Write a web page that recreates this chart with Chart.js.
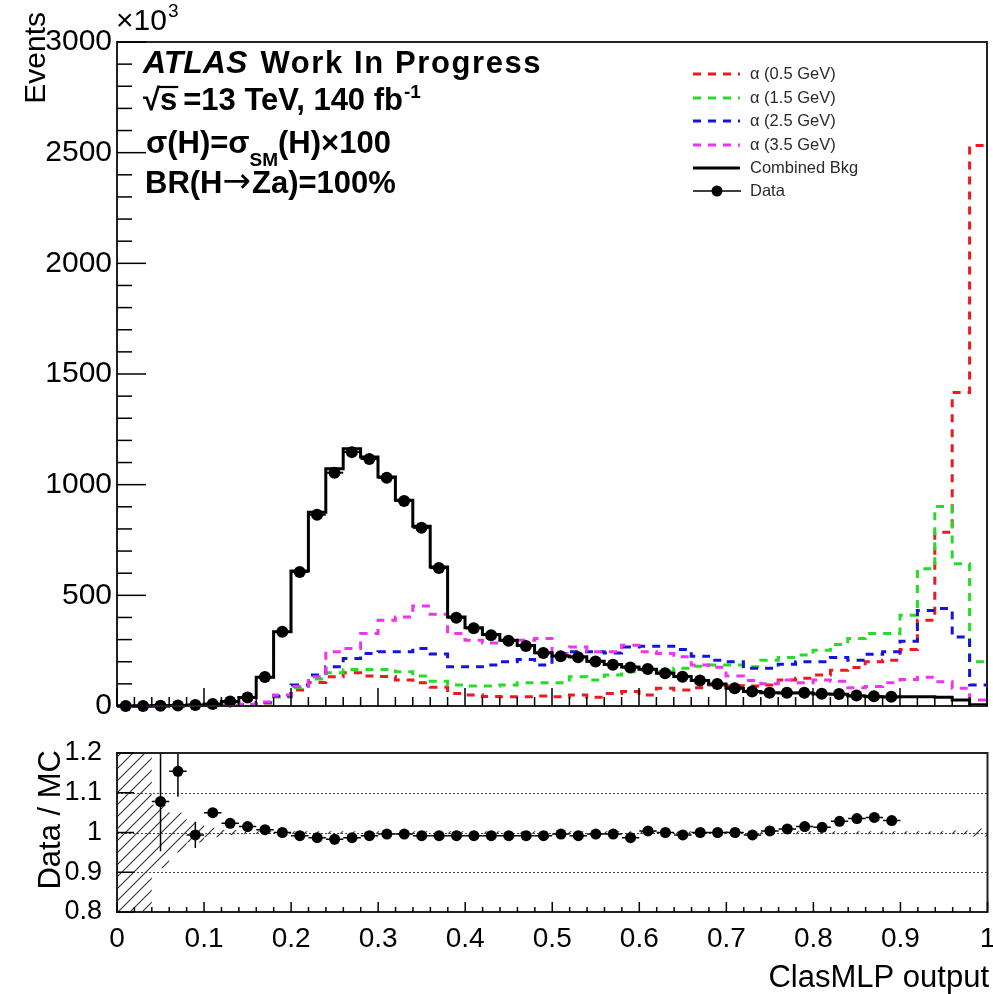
<!DOCTYPE html>
<html>
<head>
<meta charset="utf-8">
<script src="https://cdn.jsdelivr.net/npm/chart.js@4.4.1/dist/chart.umd.min.js"></script>
<style>
  html, body { margin: 0; padding: 0; background: #fff; }
  #wrap { position: relative; width: 993px; height: 994px; overflow: hidden; }
  #main { position: absolute; left: 0; top: 0; }
  #ratio { position: absolute; left: 0; top: 730px; }
</style>
</head>
<body>
<div id="wrap">
  <canvas id="main" width="993" height="730"></canvas>
  <canvas id="ratio" width="993" height="264"></canvas>
</div>
<script>
// ---- binning of the ClasMLP output ----
const nBins = 50;
const xLow = 0;
const xHigh = 1;
const binWidth = (xHigh - xLow) / nBins;

// ---- event yields per bin (units of 10^3 events) ----
const combinedBkg = [0.2, 0.4, 1.0, 2.0, 4.0, 8.5, 20, 38, 130, 335,
  610, 875, 1072, 1162, 1125, 1035, 930, 812, 628, 402,
  354, 323, 297, 273, 241, 226, 222, 202, 187, 176,
  166, 148, 133, 115, 99, 80, 65, 60, 59, 59,
  54, 53, 45, 42, 41, 42, 42, 40, 27, 6];

// data is blinded above 0.9
const dataCounts = [0, 0, 1.1, 2.3, 4.0, 8.9, 20.5, 38.6, 131, 335,
  605, 864, 1054, 1147, 1116, 1031, 926, 805, 623, 399,
  351, 320, 295, 271, 239, 225, 220, 201, 186, 174,
  167, 148, 132, 115, 99, 80, 65, 60, 60, 60,
  55, 54, 47, 44, 42, null, null, null, null, null];

const sigA05 = [0, 0, 0, 0, 0, 1, 2, 5, 14, 42,
  72, 106, 132, 150, 135, 133, 118, 105, 85, 57,
  50, 43, 42, 42, 45, 42, 50, 40, 57, 65,
  50, 80, 72, 82, 95, 92, 90, 95, 117, 125,
  140, 162, 174, 200, 207, 255, 387, 785, 1416, 2532];

const sigA15 = [0, 0, 0, 0, 0, 1, 2, 5, 15, 42,
  82, 122, 150, 165, 165, 165, 155, 135, 112, 95,
  90, 90, 95, 105, 105, 105, 132, 117, 140, 155,
  162, 155, 170, 180, 185, 185, 177, 207, 219, 230,
  252, 278, 305, 327, 327, 410, 620, 901, 643, 200];

const sigA25 = [0, 0, 0, 0, 0, 1, 3, 6, 16, 45,
  95, 140, 177, 215, 237, 245, 245, 260, 235, 177,
  177, 185, 200, 210, 185, 237, 245, 245, 240, 267,
  270, 270, 255, 225, 207, 200, 170, 170, 189, 200,
  200, 219, 207, 234, 245, 293, 432, 440, 312, 95];

const sigA35 = [0, 0, 0, 0, 0, 1, 3, 8, 18, 50,
  88, 132, 245, 260, 327, 387, 402, 452, 415, 327,
  297, 285, 297, 297, 305, 237, 267, 245, 245, 275,
  245, 237, 222, 185, 175, 135, 115, 100, 118, 105,
  117, 112, 82, 88, 105, 120, 130, 110, 80, 27];

// ---- Data / MC ratio ----
const ratioValues = [null, null, 1.078, 1.154, 0.994, 1.050, 1.023, 1.015, 1.007, 1.000,
  0.992, 0.987, 0.983, 0.987, 0.992, 0.996, 0.996, 0.992, 0.992, 0.992,
  0.992, 0.992, 0.992, 0.992, 0.992, 0.996, 0.992, 0.996, 0.996, 0.987,
  1.004, 1.000, 0.994, 1.000, 1.000, 1.000, 0.994, 1.004, 1.009, 1.015,
  1.013, 1.028, 1.035, 1.038, 1.030, null, null, null, null, null];

const ratioErrors = [null, null, 0.125, 0.064, 0.033, 0.012, 0.008, 0.005, 0.004, 0.004,
  0.003, 0.003, 0.003, 0.003, 0.003, 0.003, 0.003, 0.003, 0.003, 0.004,
  0.004, 0.004, 0.004, 0.004, 0.004, 0.004, 0.004, 0.004, 0.004, 0.004,
  0.004, 0.004, 0.004, 0.004, 0.004, 0.005, 0.005, 0.005, 0.005, 0.005,
  0.005, 0.005, 0.005, 0.006, 0.006, null, null, null, null, null];

// MC statistical uncertainty band (relative)
const mcBandLow = [0.5, 0.5, 0.91, 0.95, 0.975, 0.988, 0.994, 0.997, 0.997, 0.997,
  0.997, 0.997, 0.997, 0.997, 0.997, 0.997, 0.997, 0.997, 0.997, 0.997,
  0.997, 0.997, 0.997, 0.997, 0.997, 0.997, 0.997, 0.997, 0.997, 0.997,
  0.997, 0.997, 0.997, 0.997, 0.997, 0.997, 0.997, 0.997, 0.997, 0.997,
  0.997, 0.997, 0.997, 0.997, 0.997, 0.997, 0.997, 0.997, 0.995, 0.99];
const mcBandHigh = [1.5, 1.5, 1.07, 1.05, 1.025, 1.012, 1.006, 1.003, 1.003, 1.003,
  1.003, 1.003, 1.003, 1.003, 1.003, 1.003, 1.003, 1.003, 1.003, 1.003,
  1.003, 1.003, 1.003, 1.003, 1.003, 1.003, 1.003, 1.003, 1.003, 1.003,
  1.003, 1.003, 1.003, 1.003, 1.003, 1.003, 1.003, 1.003, 1.003, 1.003,
  1.003, 1.003, 1.003, 1.003, 1.003, 1.003, 1.003, 1.003, 1.005, 1.01];

// ---- axis ticks ----
const eventsTicks = [0, 500, 1000, 1500, 2000, 2500, 3000];
const eventsTickLabels = ['0', '500', '1000', '1500', '2000', '2500', '3000'];
const ratioTicks = [0.8, 0.9, 1.0, 1.1, 1.2];
const ratioTickLabels = ['0.8', '0.9', '1', '1.1', '1.2'];
const xTicks = [0, 0.1, 0.2, 0.3, 0.4, 0.5, 0.6, 0.7, 0.8, 0.9, 1.0];
const xTickLabels = ['0', '0.1', '0.2', '0.3', '0.4', '0.5', '0.6', '0.7', '0.8', '0.9', '1'];

// ---- helpers ----
const SANS = '"Liberation Sans", Arial, Helvetica, sans-serif';
const COL = { red: '#ea1a20', green: '#27dc27', blue: '#1414d8', magenta: '#ee34ee' };

function histSteps(values) {
  const pts = values.map((v, i) => ({ x: xLow + i * binWidth, y: v }));
  pts.push({ x: xHigh, y: values[values.length - 1] });
  return pts;
}
function binPoints(values) {
  const pts = [];
  values.forEach((v, i) => { if (v !== null) pts.push({ x: xLow + (i + 0.5) * binWidth, y: v, i }); });
  return pts;
}
function line(ctx, x1, y1, x2, y2) {
  ctx.beginPath(); ctx.moveTo(x1, y1); ctx.lineTo(x2, y2); ctx.stroke();
}
function richText(ctx, x, y, parts) {
  let cx = x;
  for (const p of parts) {
    ctx.font = p.font;
    ctx.letterSpacing = p.ls || '0px';
    ctx.fillText(p.text, cx + (p.dx || 0), y + (p.dy || 0));
    cx += (p.dx || 0) + ctx.measureText(p.text).width;
  }
  ctx.letterSpacing = '0px';
  return cx;
}

Chart.defaults.color = '#000';
Chart.defaults.font.family = SANS;

// ---------------- main panel ----------------
const histDataset = (label, values, color, dashed, order) => ({
  type: 'line', label, data: histSteps(values),
  borderColor: color, borderWidth: 3, borderDash: dashed ? [8, 7] : [],
  stepped: true, pointRadius: 0, fill: false, order, clip: 2
});

const mainDecor = {
  id: 'mainDecor',
  beforeDatasetDraw(chart, args) {
    const ds = chart.data.datasets[args.index];
    if (!ds.isData) return;
    const { ctx, scales: { x, y } } = chart;
    ctx.save();
    ctx.strokeStyle = '#000';
    ctx.lineWidth = 2;
    ds.data.forEach(p => {
      const py = y.getPixelForValue(p.y);
      line(ctx, x.getPixelForValue(p.x - binWidth / 2), py, x.getPixelForValue(p.x + binWidth / 2), py);
    });
    ctx.restore();
  },
  afterDatasetsDraw(chart) {
    const { ctx, chartArea: a, scales: { x, y } } = chart;
    ctx.save();
    // frame
    ctx.strokeStyle = '#222';
    ctx.lineWidth = 2;
    ctx.strokeRect(a.left, a.top, a.right - a.left, a.bottom - a.top);
    // inward ticks on the Events axis
    ctx.lineWidth = 1.5;
    ctx.strokeStyle = '#000';
    const yMax = eventsTicks[eventsTicks.length - 1];
    for (let v = 0; v <= yMax; v += 100) {
      const py = y.getPixelForValue(v);
      line(ctx, a.left, py, a.left + (eventsTicks.includes(v) ? 29 : 15), py);
    }
    // inward ticks on the x axis
    for (let i = 0; i <= nBins; i++) {
      const px = x.getPixelForValue(xLow + i * binWidth);
      line(ctx, px, a.bottom, px, a.bottom - (i % 5 === 0 ? 18 : 9));
    }
    ctx.restore();
  },
  afterDraw(chart) {
    const { ctx } = chart;
    const ds = chart.data.datasets;
    ctx.save();
    ctx.fillStyle = '#000';
    ctx.textAlign = 'left';
    ctx.textBaseline = 'alphabetic';

    // axis title
    ctx.save();
    ctx.translate(45, 12);
    ctx.rotate(-Math.PI / 2);
    ctx.textAlign = 'right';
    ctx.font = `30px ${SANS}`;
    ctx.fillText('Events', 0, 0);
    ctx.restore();

    // axis multiplier
    richText(ctx, 116, 30, [
      { text: '×10', font: `30px ${SANS}` },
      { text: '3', font: `19px ${SANS}`, dy: -13, dx: 1 }
    ]);

    // labels
    const B = `bold 31px ${SANS}`;
    richText(ctx, 143, 73, [
      { text: 'ATLAS', font: `italic bold 32px ${SANS}` },
      { text: ' Work In Progress', font: `bold 31px ${SANS}`, ls: '1.6px', dx: 3 }
    ]);
    // sqrt(s)
    ctx.font = B;
    const wRad = ctx.measureText('√').width;
    ctx.fillText('√', 143, 110);
    const wS = ctx.measureText('s').width;
    ctx.fillText('s', 143 + wRad, 110);
    ctx.strokeStyle = '#000';
    ctx.lineWidth = 2.2;
    line(ctx, 143 + wRad - 1, 87, 143 + wRad + wS + 1, 87);
    richText(ctx, 143 + wRad + wS + 6, 110, [
      { text: '=13 TeV, 140 fb', font: B },
      { text: '-1', font: `bold 19px ${SANS}`, dy: -12, dx: 1 }
    ]);
    richText(ctx, 146, 153, [
      { text: 'σ(H)=σ', font: B },
      { text: 'SM', font: `bold 19px ${SANS}`, dy: 13 },
      { text: '(H)×100', font: B }
    ]);
    richText(ctx, 145, 193, [
      { text: 'BR(H', font: B },
      { text: '→', font: `34px "DejaVu Sans", ${SANS}`, dx: 0, dy: -1 },
      { text: 'Za)=100%', font: B, dx: 1 }
    ]);

    // legend
    const rows = [
      { ds: ds[0], y: 74 }, { ds: ds[1], y: 98 }, { ds: ds[2], y: 121 },
      { ds: ds[3], y: 145 }, { ds: ds[4], y: 168 }, { ds: ds[5], y: 191 }
    ];
    ctx.font = `16.5px ${SANS}`;
    ctx.textBaseline = 'middle';
    rows.forEach(r => {
      const d = r.ds;
      ctx.strokeStyle = d.isData ? '#000' : d.borderColor;
      ctx.lineWidth = d.isData ? 1.5 : 3;
      ctx.setLineDash(d.borderDash && d.borderDash.length ? d.borderDash : []);
      line(ctx, 693, r.y, d.isData ? 741 : 740, r.y);
      ctx.setLineDash([]);
      if (d.isData) {
        ctx.beginPath(); ctx.arc(717, r.y, 5.5, 0, Math.PI * 2); ctx.fillStyle = '#000'; ctx.fill();
      }
      ctx.fillStyle = '#2a2a2a';
      ctx.fillText(d.label, 750, r.y);
    });
    ctx.restore();
  }
};

new Chart(document.getElementById('main'), {
  data: {
    datasets: [
      histDataset('α (0.5 GeV)', sigA05, COL.red, true, 5),
      histDataset('α (1.5 GeV)', sigA15, COL.green, true, 4),
      histDataset('α (2.5 GeV)', sigA25, COL.blue, true, 3),
      histDataset('α (3.5 GeV)', sigA35, COL.magenta, true, 2),
      histDataset('Combined Bkg', combinedBkg, '#000', false, 1),
      {
        type: 'scatter', label: 'Data', isData: true, data: binPoints(dataCounts),
        pointRadius: 6, pointBackgroundColor: '#000', pointBorderColor: '#000',
        pointBorderWidth: 0, showLine: false, order: 0, clip: false
      }
    ]
  },
  options: {
    responsive: false, animation: false, devicePixelRatio: 1,
    layout: { padding: { left: 0, right: 4, top: 42, bottom: 24 } },
    plugins: { legend: { display: false }, tooltip: { enabled: false } },
    scales: {
      x: { type: 'linear', min: xLow, max: xHigh, display: false },
      y: {
        type: 'linear', min: 0, max: 3000,
        grid: { display: false, drawTicks: false }, border: { display: false },
        afterBuildTicks: s => { s.ticks = eventsTicks.map(v => ({ value: v })); },
        afterFit: s => { s.width = 117; },
        ticks: {
          font: { size: 30 }, padding: 5, color: '#000',
          callback: (v, i) => eventsTickLabels[i]
        }
      }
    }
  },
  plugins: [mainDecor]
});

// ---------------- ratio panel ----------------
function hatchPattern() {
  const c = document.createElement('canvas');
  c.width = 12; c.height = 12;
  const g = c.getContext('2d');
  g.strokeStyle = '#333';
  g.lineWidth = 1.1;
  g.beginPath();
  g.moveTo(0, 12); g.lineTo(12, 0);
  g.moveTo(-1, 1); g.lineTo(1, -1);
  g.moveTo(11, 13); g.lineTo(13, 11);
  g.stroke();
  return g.createPattern(c, 'repeat');
}

const ratioDecor = {
  id: 'ratioDecor',
  beforeDatasetsDraw(chart) {
    const { ctx, chartArea: a, scales: { y } } = chart;
    ctx.save();
    ctx.strokeStyle = '#444';
    ctx.lineWidth = 1;
    ctx.setLineDash([2, 2]);
    [0.9, 1.0, 1.1].forEach(v => {
      const py = Math.round(y.getPixelForValue(v)) + 0.5;
      line(ctx, a.left, py, a.right, py);
    });
    ctx.restore();
  },
  beforeDatasetDraw(chart, args) {
    const ds = chart.data.datasets[args.index];
    if (!ds.isData) return;
    const { ctx, chartArea: a, scales: { x, y } } = chart;
    ctx.save();
    ctx.beginPath();
    ctx.rect(a.left, a.top, a.right - a.left, a.bottom - a.top);
    ctx.clip();
    ctx.strokeStyle = '#000';
    ctx.lineWidth = 1.5;
    ds.data.forEach(p => {
      const py = y.getPixelForValue(p.y);
      const px = x.getPixelForValue(p.x);
      line(ctx, x.getPixelForValue(p.x - binWidth / 2), py, x.getPixelForValue(p.x + binWidth / 2), py);
      const e = ratioErrors[p.i];
      line(ctx, px, y.getPixelForValue(p.y - e), px, y.getPixelForValue(p.y + e));
    });
    ctx.restore();
  },
  afterDatasetsDraw(chart) {
    const { ctx, chartArea: a, scales: { x, y } } = chart;
    ctx.save();
    ctx.strokeStyle = '#222';
    ctx.lineWidth = 2;
    ctx.strokeRect(a.left, a.top, a.right - a.left, a.bottom - a.top);
    ctx.strokeStyle = '#000';
    ctx.lineWidth = 1.5;
    ratioTicks.forEach(v => {
      const py = y.getPixelForValue(v);
      line(ctx, a.left, py, a.left + 17, py);
    });
    for (let i = 0; i <= nBins; i++) {
      const px = x.getPixelForValue(xLow + i * binWidth);
      line(ctx, px, a.bottom, px, a.bottom - (i % 5 === 0 ? 10 : 5));
    }
    ctx.restore();
  },
  afterDraw(chart) {
    const { ctx } = chart;
    ctx.save();
    ctx.fillStyle = '#000';
    ctx.font = `31px ${SANS}`;
    ctx.textBaseline = 'alphabetic';
    ctx.save();
    ctx.translate(60, 20);
    ctx.rotate(-Math.PI / 2);
    ctx.textAlign = 'right';
    ctx.fillText('Data / MC', 0, 0);
    ctx.restore();
    ctx.textAlign = 'right';
    ctx.font = `31px ${SANS}`;
    ctx.fillText('ClasMLP output', 989, 257);
    ctx.restore();
  }
};

new Chart(document.getElementById('ratio'), {
  data: {
    datasets: [
      {
        type: 'line', label: 'MC stat. up', data: histSteps(mcBandHigh), stepped: true,
        borderWidth: 0, pointRadius: 0, fill: '+1', backgroundColor: hatchPattern(), order: 2
      },
      {
        type: 'line', label: 'MC stat. down', data: histSteps(mcBandLow), stepped: true,
        borderWidth: 0, pointRadius: 0, fill: false, order: 2
      },
      {
        type: 'scatter', label: 'Data / MC', isData: true, data: binPoints(ratioValues),
        pointRadius: 5.5, pointBackgroundColor: '#000', pointBorderWidth: 0,
        showLine: false, order: 0
      }
    ]
  },
  options: {
    responsive: false, animation: false, devicePixelRatio: 1,
    layout: { padding: { left: 0, right: 4, top: 23, bottom: 0 } },
    plugins: { legend: { display: false }, tooltip: { enabled: false } },
    scales: {
      x: {
        type: 'linear', min: xLow, max: xHigh,
        grid: { display: false, drawTicks: false }, border: { display: false },
        afterBuildTicks: s => { s.ticks = xTicks.map(v => ({ value: v })); },
        afterFit: s => { s.height = 82; s.paddingLeft = 0; s.paddingRight = 0; },
        ticks: {
          font: { size: 28 }, padding: 10, color: '#000', maxRotation: 0, autoSkip: false,
          callback: (v, i) => xTickLabels[i]
        }
      },
      y: {
        type: 'linear', min: 0.8, max: 1.2,
        grid: { display: false, drawTicks: false }, border: { display: false },
        afterBuildTicks: s => { s.ticks = ratioTicks.map(v => ({ value: v })); },
        afterFit: s => { s.width = 117; s.paddingTop = 0; s.paddingBottom = 0; },
        ticks: {
          font: { size: 27 }, padding: 15, color: '#000',
          callback: (v, i) => ratioTickLabels[i]
        }
      }
    }
  },
  plugins: [ratioDecor]
});
</script>
</body>
</html>
